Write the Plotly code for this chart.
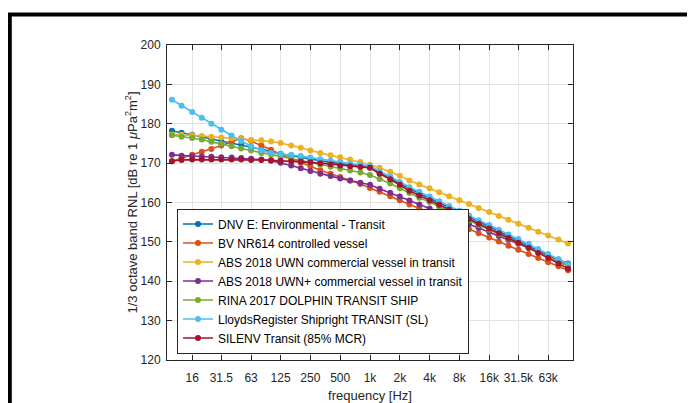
import plotly.graph_objects as go

freq = [10, 12.5, 16, 20, 25, 31.5, 40, 50, 63, 80, 100, 125, 160, 200, 250, 315, 400, 500,
        630, 800, 1000, 1250, 1600, 2000, 2500, 3150, 4000, 5000, 6300, 8000, 10000, 12500,
        16000, 20000, 25000, 31500, 40000, 50000, 63000, 80000, 100000]

dnv = [178.2, 177.7, 177.2, 176.7, 176.1, 175.6, 175.1, 174.7, 174.1, 173.5, 173.0, 172.4,
       171.9, 171.4, 171.0, 170.6, 170.2, 169.9, 169.5, 169.2, 168.9, 167.5, 166.2, 164.8,
       163.5, 162.3, 161.1, 159.9, 158.7, 157.5, 156.3, 155.1, 153.9, 152.7, 151.5, 150.3,
       149.1, 147.8, 146.5, 145.2, 143.9]
bv = [170.5, 171.2, 172.1, 172.9, 173.6, 174.5, 175.4, 176.3, 175.6, 174.5, 173.4, 172.2,
      171.1, 170.1, 169.2, 168.2, 167.3, 166.5, 165.6, 164.7, 163.7, 162.7, 161.6, 160.6,
      159.5, 158.5, 157.4, 156.4, 155.3, 154.3, 153.2, 152.2, 151.1, 150.1, 149.0, 148.0,
      146.9, 145.9, 144.8, 143.8, 142.8]
abs_uwn = [177.3, 177.2, 177.1, 176.9, 176.7, 176.5, 176.3, 176.1, 175.9, 175.8, 175.5, 175.1,
           174.5, 173.9, 173.2, 172.6, 172.0, 171.5, 170.9, 170.3, 169.6, 168.8, 167.8, 166.8,
           165.6, 164.6, 163.6, 162.6, 161.6, 160.6, 159.6, 158.6, 157.6, 156.6, 155.6, 154.6,
           153.6, 152.6, 151.6, 150.6, 149.6]
abs_plus = [172.1, 171.9, 171.8, 171.7, 171.6, 171.5, 171.4, 171.3, 171.1, 170.9, 170.6, 170.1,
            169.4, 168.7, 168.0, 167.3, 166.7, 166.1, 165.6, 165.0, 164.5, 163.5, 162.5, 161.5,
            160.5, 159.5, 158.5, 157.5, 156.5, 155.5, 154.5, 153.5, 152.5, 151.5, 150.5, 149.5,
            148.5, 147.5, 146.5, 145.5, 144.5]
rina = [177.1, 176.7, 176.4, 176.0, 175.4, 174.9, 174.3, 173.7, 173.2, 172.6, 172.1, 171.6,
        171.1, 170.6, 170.1, 169.6, 169.1, 168.6, 168.1, 167.6, 167.0, 166.0, 164.8, 163.6,
        162.4, 161.2, 160.1, 158.9, 157.8, 156.6, 155.4, 154.3, 153.1, 152.0, 150.8, 149.6,
        148.5, 147.3, 146.2, 145.0, 143.8]
lr = [186.1, 184.6, 183.0, 181.5, 180.0, 178.5, 177.0, 175.6, 174.3, 173.3, 172.6, 172.3,
      172.1, 171.8, 171.4, 171.0, 170.6, 170.3, 169.9, 169.6, 169.3, 167.9, 166.6, 165.2,
      163.9, 162.7, 161.5, 160.3, 159.1, 157.9, 156.7, 155.5, 154.3, 153.1, 151.9, 150.7,
      149.5, 148.2, 146.9, 145.6, 144.3]
silenv = [170.5, 170.8, 170.9, 170.9, 170.9, 170.9, 170.9, 170.9, 170.8, 170.8, 170.7, 170.6,
          170.5, 170.4, 170.2, 170.0, 169.7, 169.4, 169.2, 169.0, 168.8, 167.3, 165.9, 164.5,
          163.0, 161.8, 160.6, 159.4, 158.2, 157.0, 155.8, 154.6, 153.4, 152.2, 151.0, 149.8,
          148.5, 147.2, 145.9, 144.5, 143.2]

names = ["DNV E: Environmental - Transit",
         "BV NR614 controlled vessel",
         "ABS 2018 UWN commercial vessel in transit",
         "ABS 2018 UWN+ commercial vessel in transit",
         "RINA 2017 DOLPHIN TRANSIT SHIP",
         "LloydsRegister Shipright TRANSIT (SL)",
         "SILENV Transit (85% MCR)"]
series = [dnv, bv, abs_uwn, abs_plus, rina, lr, silenv]
colors = ["#0072BD", "#D95319", "#EDB120", "#7E2F8E", "#77AC30", "#4DBEEE", "#A2142F"]

tick_vals = [16, 31.5, 63, 125, 250, 500, 1000, 2000, 4000, 8000, 16000, 31500, 63000]
tick_text = ["16", "31.5", "63", "125", "250", "500", "1k", "2k", "4k", "8k", "16k", "31.5k", "63k"]
y_ticks = [120, 130, 140, 150, 160, 170, 180, 190, 200]

fig = go.Figure()
for name, vals, col in zip(names, series, colors):
    fig.add_trace(go.Scatter(x=freq, y=vals, name=name, mode="lines+markers",
                             line=dict(color=col, width=1.6),
                             marker=dict(color=col, size=6, line=dict(width=0))))

FONT = "Liberation Sans, Arial, sans-serif"
OFF = 8  # page body margin offset
W, H = 695 - OFF, 403 - OFF
L, R, T, B = 166.7 - OFF, 572.7 - OFF, 44.6 - OFF, 359.8 - OFF
pw, ph = R - L, B - T

axis_common = dict(showline=True, linecolor="#262626", linewidth=1, mirror="allticks",
                   ticks="inside", ticklen=5, tickcolor="#262626", tickwidth=1,
                   showgrid=True, gridcolor="#e3e3e3", gridwidth=1, zeroline=False,
                   automargin=False,
                   tickfont=dict(family=FONT, size=12, color="#262626"))

fig.update_layout(
    width=W, height=H,
    margin=dict(l=L, r=W - R, t=T, b=H - B, pad=0, autoexpand=False),
    paper_bgcolor="white", plot_bgcolor="white",
    font=dict(family=FONT, color="#262626"),
    showlegend=True,
    legend=dict(x=(176.7 - OFF - L) / pw, y=(B - (353.3 - OFF)) / ph,
                xanchor="left", yanchor="bottom",
                bgcolor="white", bordercolor="#262626", borderwidth=1,
                font=dict(family=FONT, size=12, color="#000000"),
                itemwidth=30, tracegroupgap=0),
    xaxis=dict(type="log", range=[0.95, 5.05], tickvals=tick_vals, ticktext=tick_text,
               title=dict(text="frequency [Hz]", font=dict(family=FONT, size=13, color="#262626"),
                          standoff=6),
               ticklabelstandoff=7,
               **axis_common),
    yaxis=dict(range=[120, 200], tickvals=y_ticks,
               title=dict(text="1/3 octave band RNL [dB re 1 <i>μ</i>Pa<sup>2</sup>m<sup>2</sup>]",
                          font=dict(family=FONT, size=13, color="#262626"), standoff=0),
               ticklabelstandoff=3,
               **axis_common),
    shapes=[dict(type="rect", xref="paper", yref="paper",
                 x0=(9.5 - OFF - L) / pw, x1=(740 - L) / pw,
                 y0=(B - 440) / ph, y1=(B - (14 - OFF)) / ph,
                 line=dict(color="black", width=4), fillcolor="rgba(0,0,0,0)", layer="above")],
)

fig.write_html("out.html")
